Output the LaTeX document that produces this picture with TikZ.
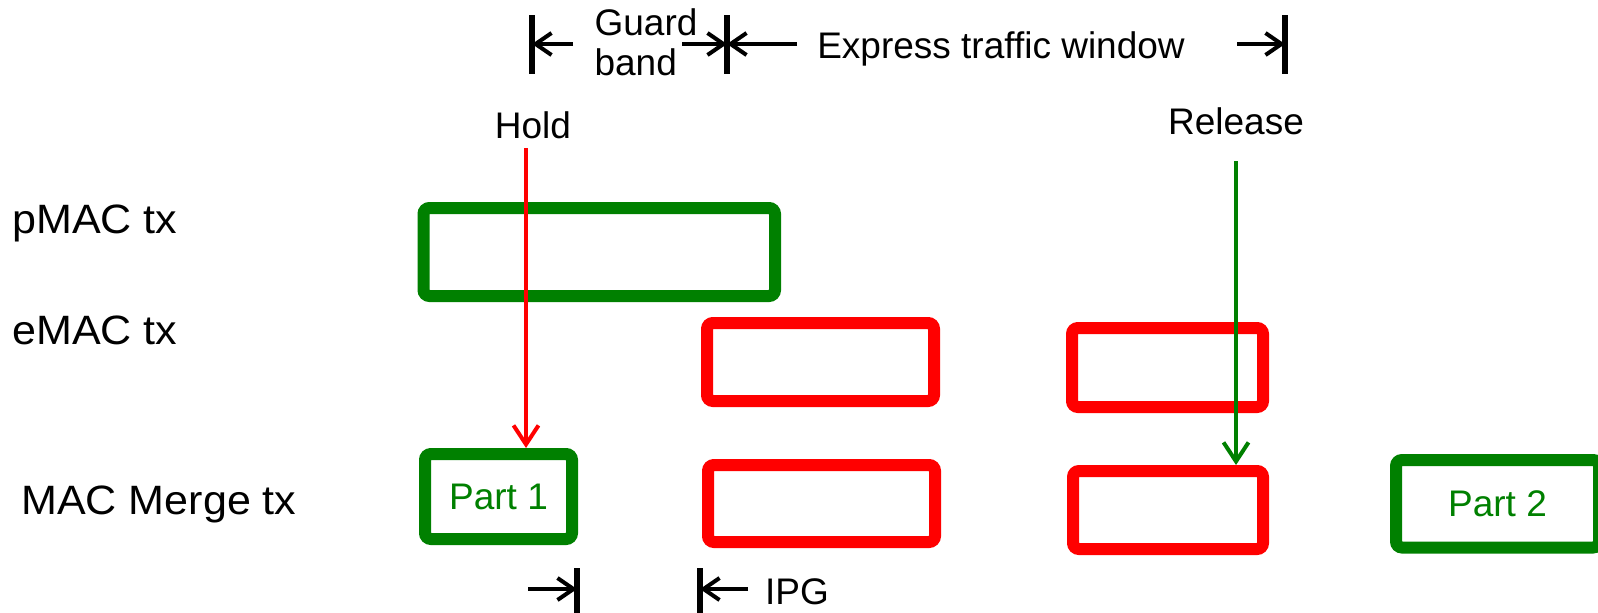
\documentclass[tikz,border=0pt]{standalone}
\usepackage{fontspec}
\setmainfont{Liberation Sans}
\newfontfamily\rowfont[FakeStretch=1.05]{Liberation Sans}
\usetikzlibrary{arrows.meta}
\definecolor{pgreen}{RGB}{0,128,0}
\definecolor{ered}{RGB}{255,0,0}

\begin{document}
\begin{tikzpicture}[x=0.5pt,y=-0.5pt,
		lbl/.style={font=\fontsize{18.5}{20}\selectfont,inner sep=0pt},
		rowlbl/.style={font=\rowfont\fontsize{20.5}{22}\selectfont,inner sep=0pt,anchor=base west},
		pframe/.style={draw=pgreen,text=pgreen,line width=6pt,rounded corners=3pt,inner sep=0pt},
		eframe/.style={draw=ered,line width=6pt,rounded corners=3pt,inner sep=0pt},
		dimbar/.style={line width=3pt},
		dimarr/.style={line width=2pt,-{Straight Barb[length=8pt,width=11pt]}},
		holdarr/.style={ered,line width=2pt,-{Straight Barb[length=9.5pt,width=12.5pt]}},
		relarr/.style={pgreen,line width=2pt,-{Straight Barb[length=9.5pt,width=12.5pt]}}]
			\useasboundingbox (0,0) rectangle (1598,612);
			\node[rowlbl] (rowp) at (12,233) {pMAC tx};
			\node[rowlbl] (rowe) at (12,344) {eMAC tx};
			\node[rowlbl] (rowm) at (21,514) {MAC Merge tx};
			\node[pframe,minimum width=175.75pt,minimum height=44pt] (pmac) at (599.25,252) {};
			\node[eframe,minimum width=113.5pt,minimum height=39pt] (emacA) at (820.5,362) {};
			\node[eframe,minimum width=95.5pt,minimum height=39.5pt] (emacB) at (1167.5,367.5) {};
			\node[pframe,lbl,minimum width=73.5pt,minimum height=42.5pt] (partA) at (498.5,496.5) {Part 1};
			\node[eframe,minimum width=113.5pt,minimum height=38.5pt] (mrgA) at (821.5,503.5) {};
			\node[eframe,minimum width=95pt,minimum height=39pt] (mrgB) at (1168,510) {};
			\node[pframe,lbl,minimum width=101.5pt,minimum height=43.75pt] (partB) at (1497.5,503.75) {Part 2};
			\node[lbl] (hold) at (533,125) {Hold};
			\node[lbl] (release) at (1236,121) {Release};
			\coordinate (holdsrc) at (526,148);
			\coordinate (relsrc) at (1236,161);
			\draw[holdarr] (holdsrc) -- (holdsrc |- partA.north);
			\draw[relarr] (relsrc) -- (relsrc |- mrgB.north);
			\node[lbl,align=left] (guard) at (646,42) {Guard\\band};
			\node[lbl,anchor=base] (window) at (1001,58) {Express traffic window};
			\coordinate (gbStart) at (532,44);
			\coordinate (gbEnd) at (727,44);
			\coordinate (winEnd) at (1285,44);
			\foreach \c in {gbStart,gbEnd,winEnd}
				\draw[dimbar] ([yshift=14.5pt]\c) -- ([yshift=-15pt]\c);
			\draw[dimarr] ([xshift=20.5pt]gbStart) -- (gbStart);
			\draw[dimarr] ([xshift=-22.5pt]gbEnd) -- (gbEnd);
			\draw[dimarr] ([xshift=35pt]gbEnd) -- (gbEnd);
			\draw[dimarr] ([xshift=-24pt]winEnd) -- (winEnd);
			\node[lbl] (ipg) at (797,592) {IPG};
			\coordinate (ipgStart) at (577,589);
			\coordinate (ipgEnd) at (700,589);
			\foreach \c in {ipgStart,ipgEnd}
				\draw[dimbar] ([yshift=10.5pt]\c) -- ([yshift=-12pt]\c);
			\draw[dimarr] ([xshift=-24.5pt]ipgStart) -- (ipgStart);
			\draw[dimarr] ([xshift=24pt]ipgEnd) -- (ipgEnd);
		\end{tikzpicture}
\end{document}
